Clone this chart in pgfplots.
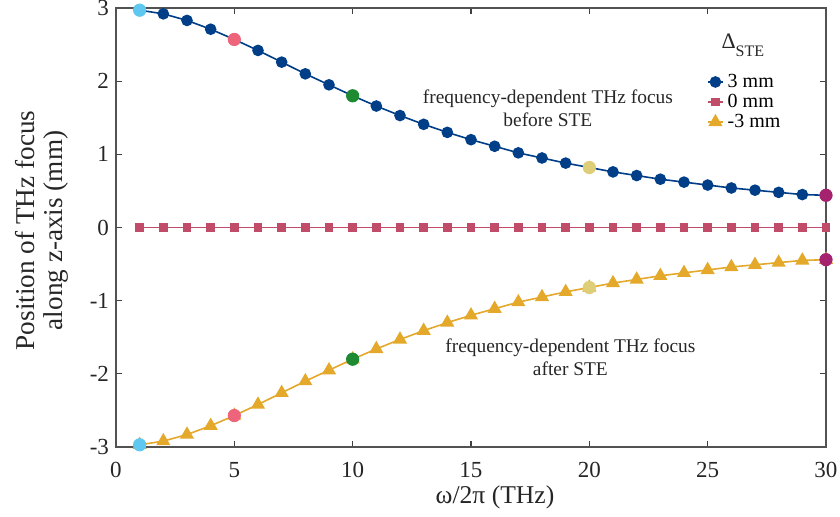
\documentclass[border=0pt]{standalone}
\usepackage{pgfplots}
\pgfplotsset{compat=1.18}
\usepackage{fontspec}
\setmainfont{Liberation Serif}

\definecolor{cBlue}{RGB}{0,63,136}
\definecolor{cRose}{RGB}{192,76,106}
\definecolor{cGold}{RGB}{228,168,42}
\definecolor{hSky}{RGB}{95,200,240}
\definecolor{hPink}{RGB}{238,100,122}
\definecolor{hGreen}{RGB}{30,138,50}
\definecolor{hKhaki}{RGB}{222,206,120}
\definecolor{hMagenta}{RGB}{165,35,110}

\begin{document}
\begin{tikzpicture}
\begin{axis}[
  scale only axis,
  width=355pt, height=219.5pt,
  xmin=0, xmax=30, ymin=-3, ymax=3,
  xtick={0,5,...,30},
  ytick={-3,-2,-1,0,1,2,3},
  yticklabels={-3,-2,-1,0,1,2,3},
  tick align=inside,
  major tick length=3pt,
  tick style={black!75, line width=0.6pt},
  axis line style={black!68, line width=0.7pt},
  ticklabel style={font=\rmfamily\fontsize{11.5}{12}\selectfont, black!85},
  xticklabel style={yshift=-4pt},
  /pgf/number format/assume math mode=true,
  xlabel={ω/2π (THz)},
  xlabel style={font=\rmfamily\fontsize{12.8}{14}\selectfont, black!85,
    at={(rel axis cs:0.5,0)}, anchor=center, yshift=-25pt, xshift=12pt},
  ylabel={Position of THz focus\\along z-axis (mm)},
  ylabel style={font=\rmfamily\fontsize{13.6}{14.2}\selectfont, black!85, align=center,
    at={(rel axis cs:0,0.5)}, anchor=center, yshift=37pt, xshift=-1.5pt},
  clip=false,
  legend style={draw=none, fill=none, at={(rel axis cs:0.832,0.86)}, anchor=north west,
    font=\rmfamily\fontsize{10}{11}\selectfont, row sep=-2.1pt, inner sep=0pt,
    /tikz/every even column/.append style={column sep=0.5pt}},
  legend cell align=left,
  legend image code/.code={\draw[mark repeat=2, mark phase=2] plot coordinates {(0pt,0pt) (3.75pt,0pt) (7.5pt,0pt)};},
]
\coordinate (sw) at (rel axis cs:0,0);
\coordinate (ne) at (rel axis cs:1,1);

% Focus position for +3 mm emitter offset
\addplot[cBlue, line width=0.8pt, mark=*, mark size=2.5pt, mark options={fill=cBlue, draw=cBlue}]
coordinates {
(1,2.97) (2,2.92) (3,2.83) (4,2.71) (5,2.57) (6,2.42) (7,2.26) (8,2.10) (9,1.95) (10,1.80)
(11,1.66) (12,1.53) (13,1.41) (14,1.30) (15,1.20) (16,1.11) (17,1.02) (18,0.95) (19,0.88) (20,0.82)
(21,0.76) (22,0.71) (23,0.66) (24,0.62) (25,0.58) (26,0.54) (27,0.51) (28,0.48) (29,0.45) (30,0.44)
};
\addlegendentry{3 mm}

% Zero offset
\addplot[cRose, line width=0.8pt, mark=square*, mark size=1.8pt, mark options={fill=cRose, draw=cRose}]
coordinates {
(1,0) (2,0) (3,0) (4,0) (5,0) (6,0) (7,0) (8,0) (9,0) (10,0)
(11,0) (12,0) (13,0) (14,0) (15,0) (16,0) (17,0) (18,0) (19,0) (20,0)
(21,0) (22,0) (23,0) (24,0) (25,0) (26,0) (27,0) (28,0) (29,0) (30,0)
};
\addlegendentry{0 mm}

% Focus position for -3 mm emitter offset
\addplot[cGold, line width=0.8pt, mark=triangle*, mark size=3.3pt, mark options={fill=cGold, draw=cGold}]
coordinates {
(1,-2.97) (2,-2.92) (3,-2.83) (4,-2.71) (5,-2.57) (6,-2.42) (7,-2.26) (8,-2.10) (9,-1.95) (10,-1.80)
(11,-1.66) (12,-1.53) (13,-1.41) (14,-1.30) (15,-1.20) (16,-1.11) (17,-1.02) (18,-0.95) (19,-0.88) (20,-0.82)
(21,-0.76) (22,-0.71) (23,-0.66) (24,-0.62) (25,-0.58) (26,-0.54) (27,-0.51) (28,-0.48) (29,-0.45) (30,-0.44)
};
\addlegendentry{-3 mm}

% Highlighted frequencies
\addplot[only marks, mark=*, mark size=3.1pt, mark options={fill=hSky, draw=hSky}, forget plot] coordinates {(1,2.97) (1,-2.97)};
\addplot[only marks, mark=*, mark size=3.1pt, mark options={fill=hPink, draw=hPink}, forget plot] coordinates {(5,2.57) (5,-2.57)};
\addplot[only marks, mark=*, mark size=3.1pt, mark options={fill=hGreen, draw=hGreen}, forget plot] coordinates {(10,1.80) (10,-1.80)};
\addplot[only marks, mark=*, mark size=3.1pt, mark options={fill=hKhaki, draw=hKhaki}, forget plot] coordinates {(20,0.82) (20,-0.82)};
\addplot[only marks, mark=*, mark size=3.1pt, mark options={fill=hMagenta, draw=hMagenta}, forget plot] coordinates {(30,0.44) (30,-0.44)};

\node[font=\rmfamily\fontsize{9.7}{11.5}\selectfont, align=center, black!85] at (axis cs:18.25,1.63)
  {frequency-dependent THz focus\\before STE};
\node[font=\rmfamily\fontsize{9.7}{11.5}\selectfont, align=center, black!85] at (axis cs:19.2,-1.78)
  {frequency-dependent THz focus\\after STE};
\node[font=\rmfamily\fontsize{11}{12}\selectfont, black!85, anchor=west] at (rel axis cs:0.843,0.915)
  {Δ\raisebox{-3.6pt}{\fontsize{8}{9}\selectfont STE}};
\end{axis}
\pgfresetboundingbox
\path (ne) ++(7pt,4pt) coordinate (tr);
\path (sw) ++(-58pt,-35pt) rectangle (tr);
\end{tikzpicture}
\end{document}
